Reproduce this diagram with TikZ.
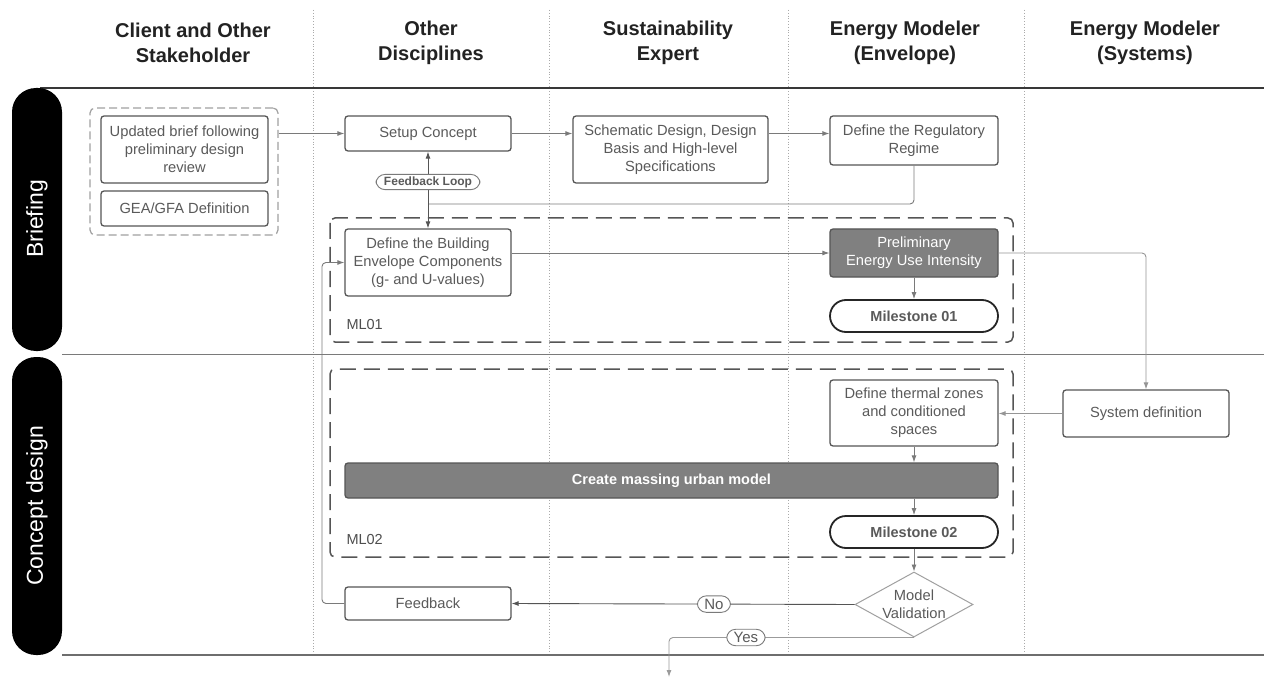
\documentclass[tikz,border=0pt]{standalone}
\usepackage{fontspec}
\setmainfont{Liberation Sans}
\usetikzlibrary{shapes.geometric,arrows.meta}
\definecolor{tx}{HTML}{5A5A5A}
\definecolor{bd}{HTML}{555555}
\definecolor{ln}{HTML}{7A7A7A}
\definecolor{hd}{HTML}{222222}
\definecolor{gbox}{HTML}{808080}
\definecolor{dv}{HTML}{AAAAAA}
\definecolor{lightdash}{HTML}{A0A0A0}
\tikzset{
 box/.style={draw=bd, line width=1.3pt, rounded corners=3pt, fill=white, text=tx, font=\fontsize{14.7}{18}\selectfont, align=center, inner sep=2pt},
 darkbox/.style={box, fill=gbox, text=white},
 mstone/.style={draw=black!85, line width=1.8pt, rounded corners=16pt, fill=white, text=tx, font=\bfseries\fontsize{14.5}{17}\selectfont, minimum width=168pt, minimum height=32pt},
 conn/.style={draw=ln, line width=0.9pt, -{Latex[length=7pt,width=5pt]}},
 plainln/.style={draw=ln, line width=0.9pt},
 pill/.style={draw=ln, line width=0.9pt, rounded corners=9pt, fill=white, text=tx, inner xsep=7pt, inner ysep=3pt, font=\fontsize{15}{17}\selectfont},
 hdr/.style={font=\bfseries\fontsize{20}{25}\selectfont, text=hd, align=center},
 divider/.style={draw=dv, line width=0.8pt, dotted},
 mlbox/.style={draw=bd, line width=1.5pt, dash pattern=on 16pt off 8pt, rounded corners=5pt},
 lanetxt/.style={text=white, rotate=90, font=\fontsize{23}{26}\selectfont},
 mltxt/.style={anchor=west, text=hd!80, font=\fontsize{14.5}{16}\selectfont},
}
\begin{document}
\begin{tikzpicture}[x=1pt,y=-1pt]
\useasboundingbox (0,0) rectangle (1264,679);
\fill[white] (0,0) rectangle (1264,679);
% column dividers
\foreach \xx in {313,549,788,1024} \draw[divider] (\xx,10) -- (\xx,655);
% headers
\node[hdr] (h1) at (193,43) {Client and Other\\Stakeholder};
\node[hdr] (h2) at (431,43) {Other\\Disciplines};
\node[hdr] (h3) at (668,43) {Sustainability\\Expert};
\node[hdr] (h4) at (905,43) {Energy Modeler\\(Envelope)};
\node[hdr] (h5) at (1145,43) {Energy Modeler\\(Systems)};
% lane lines
\draw[draw=hd!90, line width=2pt] (40,88) -- (1264,88);
\draw[draw=ln, line width=1pt] (62,354) -- (1264,354);
\draw[draw=ln!90!black, line width=1.2pt] (62,655) -- (1264,655);
% lane bars
\fill[black, rounded corners=24pt] (12,88) rectangle (62,351);
\fill[black, rounded corners=24pt] (12,357) rectangle (62,655);
\node[lanetxt] (lb) at (37,219) {Briefing};
\node[lanetxt] (lc) at (37,506) {Concept design};
% group boxes
\node[draw=lightdash, line width=1.2pt, dash pattern=on 8pt off 4pt, rounded corners=5pt, minimum width=188pt, minimum height=127pt] (cgrp) at (184,171.5) {};
\draw[mlbox] (330,218) rectangle (1013,342);
\node[mltxt] (ml1) at (343,325) {ML01};
\draw[mlbox] (330,369) rectangle (1013,557);
\node[mltxt] (ml2) at (343,540) {ML02};
% nodes
\node[box, minimum width=167pt, minimum height=67pt] (brief) at (184.5,149.5) {Updated brief following\\preliminary design\\review};
\node[box, minimum width=167pt, minimum height=35pt] (gea) at (184.5,208.5) {GEA/GFA Definition};
\node[box, minimum width=166pt, minimum height=35pt] (setup) at (428,133.5) {Setup Concept};
\node[box, minimum width=195pt, minimum height=67pt] (schem) at (670.5,149.5) {Schematic Design, Design\\Basis and High-level\\Specifications};
\node[box, minimum width=168pt, minimum height=49pt] (reg) at (914,140.5) {Define the Regulatory\\Regime};
\node[box, minimum width=166pt, minimum height=67pt] (defbe) at (428,262.5) {Define the Building\\Envelope Components\\(g- and U-values)};
\node[darkbox, minimum width=168pt, minimum height=48pt] (peui) at (914,253) {Preliminary\\Energy Use Intensity};
\node[mstone] (ms1) at (914,316) {Milestone 01};
\node[box, minimum width=166pt, minimum height=47pt] (sysdef) at (1146,413.5) {System definition};
\node[box, minimum width=168pt, minimum height=66pt] (therm) at (914,413) {Define thermal zones\\and conditioned\\spaces};
\node[darkbox, minimum width=653pt, minimum height=35pt, font=\bfseries\fontsize{14.5}{16}\selectfont] (mass) at (671.5,480.5) {Create massing urban model};
\node[mstone] (ms2) at (914,532) {Milestone 02};
\node[draw=lightdash, line width=1pt, shape=diamond, aspect=1.85, minimum width=118pt, minimum height=65pt, inner sep=0pt, fill=white] (val) at (914,604.5) {};
\node[text=tx, align=center, font=\fontsize{14.7}{18}\selectfont] (valtxt) at (914,604) {Model\\Validation};
\node[box, minimum width=166pt, minimum height=33pt] (fbk) at (428,603.5) {Feedback};
% coordinates
\coordinate (fbj) at (428,204);
\coordinate (fbc) at (322,262.5);
\coordinate (endc) at (669,677);
% connectors
\draw[conn] (cgrp.east |- setup.west) -- (setup.west);
\draw[conn] (setup.east) -- (schem.west |- setup.east);
\draw[conn] (schem.east |- setup.east) -- (reg.west |- setup.east);
\draw[plainln, rounded corners=4pt] (reg.south) |- (fbj);
\draw[conn, draw=bd] (fbj) -- (defbe.north);
\draw[conn, draw=bd] (fbj) -- node[pill, pos=0.42, font=\bfseries\fontsize{12}{14}\selectfont, inner xsep=8pt, inner ysep=2pt] (fl) {Feedback Loop} (setup.south);
\draw[conn] (defbe.east |- peui.west) -- (peui.west);
\draw[conn] (peui.south) -- (ms1.north);
\draw[conn, draw=ln!80, rounded corners=4pt] (peui.east) -| (sysdef.north);
\draw[conn, draw=ln!80] (sysdef.west) -- (therm.east |- sysdef.west);
\draw[conn] (therm.south) -- (therm.south |- mass.north);
\draw[conn] (ms2.north |- mass.south) -- (ms2.north);
\draw[conn] (ms2.south) -- (val.north);
\draw[conn, draw=bd] (val.west) -- node[pill, pos=0.41] (no) {No} (fbk.east);
\draw[conn, rounded corners=4pt] (fbk.west) -| (fbc) -- (defbe.west);
\draw[conn, draw=ln!75, rounded corners=4pt] (val.south) -| node[pill, pos=0.343] (yes) {Yes} (endc);
\end{tikzpicture}
\end{document}
